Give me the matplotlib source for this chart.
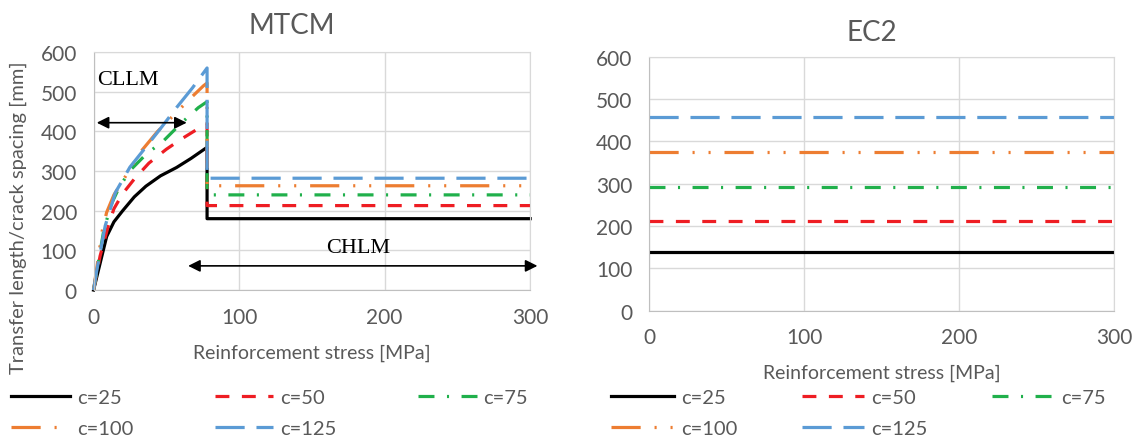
import matplotlib
matplotlib.use("Agg")
import matplotlib.pyplot as plt

plt.rcParams['font.family'] = ['Lato', 'DejaVu Sans']
plt.rcParams['lines.scale_dashes'] = False

# --- data ---
labels = ["c=25", "c=50", "c=75", "c=100", "c=125"]
colors = ["#000000", "#ee1d23", "#20b04b", "#ed7d31", "#5b9bd5"]
dashes = [None, (10, 9), (11.5, 9, 1.5, 9), (21, 10, 1.5, 10, 1.5, 10), (21, 8.5)]

stress_max = 300
drop_at = 78

# MTCM rising branch (stress [MPa], length [mm]) for each cover
mtcm_x25 = [0, 5, 9, 14, 20, 28, 36, 46, 57, 67, 78]
mtcm_y25 = [0, 75, 135, 172, 200, 235, 262, 288, 309, 332, 360]
mtcm_x50 = [0, 4.5, 10, 14, 20, 28, 38, 50, 60, 71, 78]
mtcm_y50 = [0, 86, 160, 205, 243, 280, 320, 355, 380, 405, 420]
mtcm_x75 = [0, 7, 12, 18, 26, 36, 48, 60, 72, 78]
mtcm_y75 = [0, 150, 215, 262, 305, 342, 376, 420, 460, 475]
mtcm_x100 = [0, 6, 9, 14, 20, 32, 44, 57, 67, 75.5, 78]
mtcm_y100 = [0, 150, 196, 240, 275, 347, 400, 448, 485, 515, 522]
mtcm_x125 = [0, 2, 8, 15, 25, 36.5, 47, 57, 68, 78]
mtcm_y125 = [0, 45, 162, 246, 310, 363, 412, 460, 510, 560]
mtcm_plateau = [180, 213, 240, 263, 282]

ec2_spacing = [138, 213, 292, 375, 458]

rising_x = [mtcm_x25, mtcm_x50, mtcm_x75, mtcm_x100, mtcm_x125]
rising_y = [mtcm_y25, mtcm_y50, mtcm_y75, mtcm_y100, mtcm_y125]

grey = "#595959"
lw = 2.3

fig = plt.figure(figsize=(11.34, 4.39), dpi=100)
ax1 = fig.add_axes([0.0825, 0.337, 0.385, 0.542])
ax2 = fig.add_axes([0.5723, 0.290, 0.410, 0.5786])


def style(ax):
    ax.set_xlim(0, 300)
    ax.set_ylim(0, 600)
    ax.set_xticks([0, 100, 200, 300])
    ax.set_yticks(range(0, 601, 100))
    ax.grid(True, color="#d9d9d9", lw=1)
    ax.set_axisbelow(True)
    for s in ax.spines.values():
        s.set_color("#d9d9d9")
    ax.spines['bottom'].set_color("#bfbfbf")
    ax.spines['left'].set_color("#bfbfbf")
    ax.tick_params(length=0, labelsize=15, labelcolor=grey, pad=12)


handles = []
for i in range(5):
    xs = rising_x[i] + [drop_at, stress_max]
    ys = rising_y[i] + [mtcm_plateau[i], mtcm_plateau[i]]
    ln, = ax1.plot(xs, ys, color=colors[i], lw=lw, label=labels[i], clip_on=False)
    if dashes[i]:
        ln.set_dashes(dashes[i])
    handles.append(ln)

for i in range(5):
    ln, = ax2.plot([0, stress_max], [ec2_spacing[i], ec2_spacing[i]], color=colors[i], lw=lw,
                   label=labels[i])
    if dashes[i]:
        ln.set_dashes(dashes[i])

style(ax1)
style(ax2)

ax1.set_title("MTCM", fontsize=20, color=grey, pad=14, x=0.455)
ax2.set_title("EC2", fontsize=20, color=grey, pad=12, x=0.48)
ax1.set_xlabel("Reinforcement stress [MPa]", fontsize=14, color=grey, labelpad=12)
ax2.set_xlabel("Reinforcement stress [MPa]", fontsize=14, color=grey, labelpad=12)
fig.text(0.016, 0.505, "Transfer length/crack spacing [mm]", rotation=90, fontsize=14.5,
         color=grey, ha="center", va="center")

# annotations
ax1.text(2.4, 531, "CLLM", fontsize=16, family="Liberation Serif", va="center")
ax1.annotate("", xy=(2.2, 422), xytext=(64, 422),
             arrowprops=dict(arrowstyle="<|-|>", color="black", lw=1.2, mutation_scale=18,
                             shrinkA=0, shrinkB=0))
ax1.text(160, 108, "CHLM", fontsize=16, family="Liberation Serif", va="center")
ax1.annotate("", xy=(65, 61), xytext=(305, 61), annotation_clip=False,
             arrowprops=dict(arrowstyle="<|-|>", color="black", lw=1.2, mutation_scale=18,
                             shrinkA=0, shrinkB=0))

# legends, row-major order
order = [0, 3, 1, 4, 2]
hs = [handles[k] for k in order]
ls = [labels[k] for k in order]
for xpos, spacing, hl in [(0.010, 4.05, 2.9), (0.539, 3.2, 3.1)]:
    fig.legend(hs, ls, ncol=3, loc="upper left", bbox_to_anchor=(xpos, 0.112),
               frameon=False, fontsize=14.5, labelcolor=grey, handlelength=hl,
               handletextpad=0.35, columnspacing=spacing, borderpad=0,
               borderaxespad=0, labelspacing=0.7)

fig.savefig("out.png", dpi=100)
